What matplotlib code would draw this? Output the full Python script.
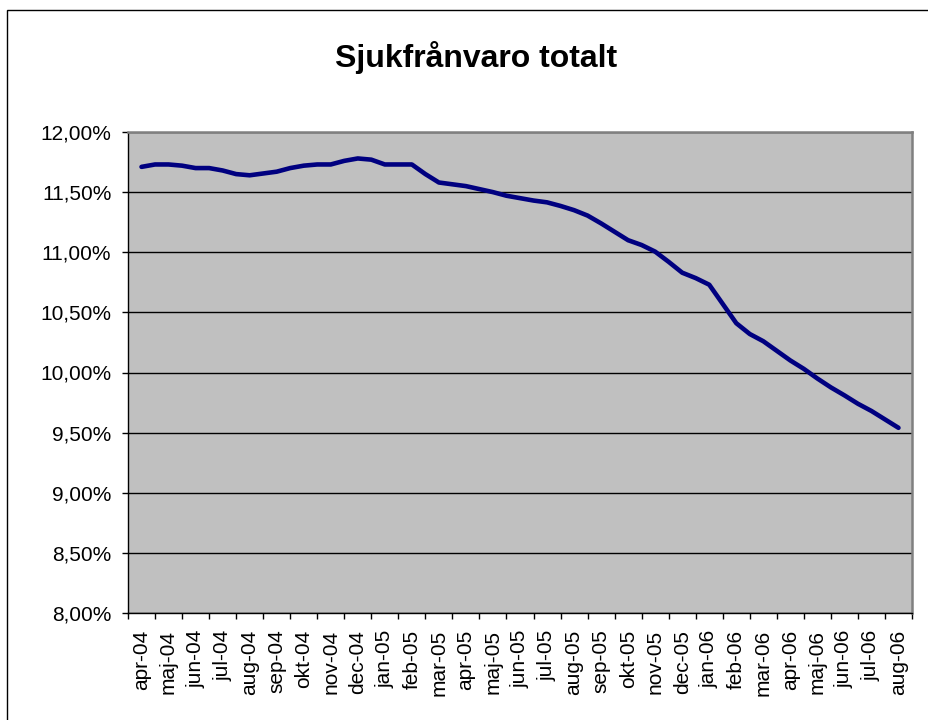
import matplotlib
matplotlib.use("Agg")
import matplotlib.pyplot as plt
import numpy as np
from matplotlib.ticker import FixedLocator, FuncFormatter
from matplotlib.patches import Rectangle

plt.rcParams['font.family'] = ['Liberation Sans', 'DejaVu Sans']

months = ["apr-04", "maj-04", "jun-04", "jul-04", "aug-04", "sep-04", "okt-04",
          "nov-04", "dec-04", "jan-05", "feb-05", "mar-05", "apr-05", "maj-05",
          "jun-05", "jul-05", "aug-05", "sep-05", "okt-05", "nov-05", "dec-05",
          "jan-06", "feb-06", "mar-06", "apr-06", "maj-06", "jun-06", "jul-06",
          "aug-06"]

# half-monthly readings of total sick leave (%)
sick_leave = [11.71, 11.73, 11.73, 11.72, 11.70, 11.70, 11.68, 11.65, 11.64, 11.655,
              11.67, 11.70, 11.72, 11.73, 11.73, 11.76, 11.78, 11.77, 11.73, 11.73,
              11.73, 11.65, 11.58, 11.565, 11.55, 11.525, 11.50, 11.47, 11.45, 11.43,
              11.415, 11.385, 11.35, 11.305, 11.24, 11.17, 11.10, 11.06, 11.005, 10.92,
              10.83, 10.785, 10.73, 10.57, 10.41, 10.32, 10.26, 10.18, 10.10, 10.03,
              9.95, 9.876, 9.81, 9.74, 9.68, 9.61, 9.54]

y_ticks = [8.0, 8.5, 9.0, 9.5, 10.0, 10.5, 11.0, 11.5, 12.0]

fig = plt.figure(figsize=(9.29, 7.20), dpi=100)
fig.patch.set_facecolor("white")

# outer chart frame
fig.patches.append(Rectangle((7 / 929, -0.1), 1.2, 1 - 10 / 720 + 0.1,
                             transform=fig.transFigure, fill=False,
                             edgecolor="black", linewidth=1.0))

ax = fig.add_axes([128 / 929, 1 - 613 / 720, (912 - 128) / 929, (613 - 132) / 720])
ax.set_facecolor("#C0C0C0")

x = np.arange(len(sick_leave)) * 0.5
ax.plot(x, sick_leave, color="#000080", linewidth=3.3, solid_capstyle="round",
        solid_joinstyle="round", zorder=3)

ax.set_xlim(-0.5, len(months) - 0.5)
ax.set_ylim(8.0, 12.0)

ax.set_yticks(y_ticks)
ax.yaxis.set_major_formatter(FuncFormatter(lambda v, p: f"{v:.2f}".replace(".", ",") + "%"))
ax.yaxis.grid(True, color="black", linewidth=1.0)
ax.set_axisbelow(True)

ax.xaxis.set_major_locator(FixedLocator(np.arange(len(months) + 1) - 0.5))
ax.xaxis.set_major_formatter(FuncFormatter(lambda v, p: ""))
ax.xaxis.set_minor_locator(FixedLocator(np.arange(len(months))))
ax.set_xticklabels(months, minor=True, rotation=90, fontsize=15)
ax.tick_params(axis="x", which="minor", length=0, pad=12)
ax.tick_params(axis="x", which="major", direction="out", length=4.5, width=1, color="black")
ax.tick_params(axis="y", direction="out", length=4, width=1, color="black",
               labelsize=15, pad=8)

for s in ["left", "bottom"]:
    ax.spines[s].set_color("black")
    ax.spines[s].set_linewidth(1.0)
for s in ["top", "right"]:
    ax.spines[s].set_color("#808080")
    ax.spines[s].set_linewidth(1.8)

fig.text(476 / 929, 1 - 57 / 720, "Sjukfrånvaro totalt", ha="center", va="center",
         fontsize=23, fontweight="bold")

fig.savefig("out.png", dpi=100)
